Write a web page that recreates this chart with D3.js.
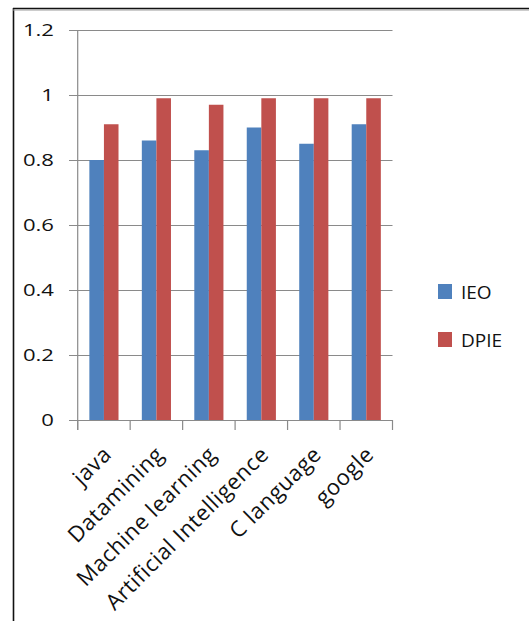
<!DOCTYPE html>
<html><head><meta charset="utf-8">
<script src="https://cdn.jsdelivr.net/npm/d3@7"></script>
<style>body{margin:0;background:#fff}svg{display:block}text{font-family:"Open Sans",sans-serif;fill:#111}</style>
</head><body><svg id="c" width="529" height="621"></svg>
<script>
const categories = ["java","Datamining","Machine learning","Artificial Intelligence","C language","google"];
const seriesNames = ["IEO","DPIE"];
const ieo  = [0.80,0.86,0.83,0.90,0.85,0.91];
const dpie = [0.91,0.99,0.97,0.99,0.99,0.99];
const yTicks = [0,0.2,0.4,0.6,0.8,1,1.2];
const colors = ["#4F81BD","#C0504D"];

const svg = d3.select("#c");
svg.append("rect").attr("width",529).attr("height",621).attr("fill","#fff");
// outer frame
svg.append("line").attr("x1",13.5).attr("x2",13.5).attr("y1",8).attr("y2",621).attr("stroke","#111").attr("stroke-width",1.6);
svg.append("line").attr("x1",13).attr("x2",529).attr("y1",8.5).attr("y2",8.5).attr("stroke","#111").attr("stroke-width",1.6);
svg.append("line").attr("x1",13).attr("x2",529).attr("y1",10).attr("y2",10).attr("stroke","#999").attr("stroke-width",1);

const L=77.7, R=392.5, T=30, B=420;
const x = d3.scaleBand().domain(categories).range([L,R]).paddingInner(0).paddingOuter(0);
const y = d3.scaleLinear().domain([0,1.2]).range([B,T]);
// gridlines
svg.append("g").selectAll("line").data(yTicks).join("line")
  .attr("x1",69).attr("x2",R).attr("y1",d=>Math.round(y(d))+0.5).attr("y2",d=>Math.round(y(d))+0.5)
  .attr("stroke","#8a8a8a").attr("stroke-width",1.2);
// bars
const data = categories.map((c,i)=>({c, vals:[ieo[i],dpie[i]]}));
const inner = d3.scaleBand().domain(seriesNames).range([0,x.bandwidth()]).paddingOuter(0.8).paddingInner(0);
const g = svg.append("g").selectAll("g").data(data).join("g").attr("transform",d=>`translate(${x(d.c)},0)`);
g.selectAll("rect").data(d=>d.vals.map((v,k)=>({k,v}))).join("rect")
  .attr("x",d=>inner(seriesNames[d.k])).attr("width",inner.bandwidth())
  .attr("y",d=>y(d.v)).attr("height",d=>B-y(d.v)).attr("fill",d=>colors[d.k]);
// axes lines
svg.append("line").attr("x1",L).attr("x2",L).attr("y1",T).attr("y2",430).attr("stroke","#8a8a8a").attr("stroke-width",1.2);
svg.append("g").selectAll("line").data(categories.concat(["_end"])).join("line")
  .attr("x1",(d,i)=>L+i*x.bandwidth()).attr("x2",(d,i)=>L+i*x.bandwidth()).attr("y1",B).attr("y2",430)
  .attr("stroke","#8a8a8a").attr("stroke-width",1.2);
// y tick labels
svg.append("g").selectAll("text").data(yTicks).join("text")
  .attr("transform",d=>`translate(54,${y(d)}) scale(1.3,1)`)
  .attr("text-anchor","end").attr("dy","0.36em").attr("font-size",17)
  .text(d=>d3.format("")(d));
// category labels
svg.append("g").selectAll("text").data(categories).join("text")
  .attr("transform",d=>`translate(${x(d)+x.bandwidth()/2+1},${448}) rotate(-45)`)
  .attr("text-anchor","end").attr("dy","0.5em").attr("font-size",22).attr("letter-spacing",0.6)
  .text(d=>d);
// legend
const lg = svg.append("g").selectAll("g").data(seriesNames).join("g")
  .attr("transform",(d,i)=>`translate(438,${284+i*48})`);
lg.append("rect").attr("width",14).attr("height",15).attr("fill",(d,i)=>colors[i]);
lg.append("text").attr("x",23).attr("y",15).attr("font-size",19).text(d=>d);
</script></body></html>
